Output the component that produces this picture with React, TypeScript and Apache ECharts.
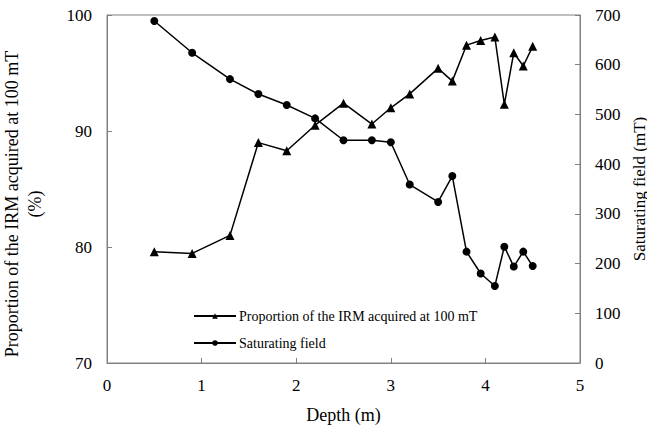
import React, { useEffect, useRef } from "react";
import * as echarts from "echarts";

const depth = [0.5, 0.9, 1.3, 1.6, 1.9, 2.2, 2.5, 2.8, 3.0, 3.2, 3.5, 3.65, 3.8, 3.95, 4.1, 4.2, 4.3, 4.4, 4.5];
const proportion = [79.6, 79.45, 81.0, 89.0, 88.3, 90.5, 92.4, 90.6, 92.0, 93.2, 95.4, 94.3, 97.4, 97.8, 98.1, 92.3, 96.75, 95.6, 97.3];
const saturating = [688, 624, 571, 541, 519, 492, 448, 448, 444, 359, 324, 376, 224, 180, 155, 234, 194, 224, 195];

const nameProp = "Proportion of the IRM acquired at 100 mT";
const nameSat = "Saturating field";

const FONT = "'Liberation Serif', 'Times New Roman', serif";

export default function App() {
  const ref = useRef<HTMLDivElement>(null);
  useEffect(() => {
    if (!ref.current) return;
    const chart = echarts.init(ref.current, undefined, { renderer: "svg" });
    const axisLine = { show: true, lineStyle: { color: "#808080", width: 1 } };
    const labelStyle = { fontFamily: FONT, fontSize: 17, color: "#000" };
    const tick = { show: true, inside: true, length: 5, lineStyle: { color: "#808080" } };
    chart.setOption({
      animation: false,
      backgroundColor: "#fff",
      textStyle: { fontFamily: FONT },
      grid: {
        left: 107,
        right: 67,
        top: 15,
        bottom: 66,
        show: true,
        borderColor: "#808080",
        borderWidth: 1,
        containLabel: false,
        outerBoundsMode: "none",
      },
      legend: {
        orient: "vertical",
        left: 188,
        top: 304,
        itemWidth: 42,
        itemHeight: 7,
        itemGap: 13,
        textStyle: { fontFamily: FONT, fontSize: 14, color: "#000", padding: [0, 0, 0, -2] },
        data: [nameProp, nameSat],
      },
      xAxis: {
        type: "value",
        min: 0,
        max: 5,
        interval: 1,
        name: "Depth (m)",
        nameLocation: "middle",
        nameGap: 43,
        nameTextStyle: { fontFamily: FONT, fontSize: 18, color: "#000" },
        axisLine,
        axisTick: tick,
        axisLabel: { ...labelStyle, margin: 14 },
        splitLine: { show: false },
      },
      yAxis: [
        {
          type: "value",
          min: 70,
          max: 100,
          interval: 10,
          position: "left",
          name: nameProp + "\n(%)",
          nameLocation: "middle",
          nameRotate: 90,
          nameGap: 61,
          nameTextStyle: { fontFamily: FONT, fontSize: 18, color: "#000", lineHeight: 23, align: "center", padding: [0, 30, 0, 0] },
          axisLine,
          axisTick: tick,
          axisLabel: { ...labelStyle, margin: 15 },
          splitLine: { show: false },
        },
        {
          type: "value",
          min: 0,
          max: 700,
          interval: 100,
          position: "right",
          name: "Saturating field (mT)",
          nameLocation: "middle",
          nameRotate: 90,
          nameGap: 43,
          nameTextStyle: { fontFamily: FONT, fontSize: 17, color: "#000", lineHeight: 17 },
          axisLine,
          axisTick: tick,
          axisLabel: { ...labelStyle, margin: 15 },
          splitLine: { show: false },
        },
      ],
      series: [
        {
          name: nameProp,
          type: "line",
          yAxisIndex: 0,
          data: depth.map((d, i) => [d, proportion[i]]),
          symbol: "triangle",
          symbolSize: 9,
          itemStyle: { color: "#000" },
          lineStyle: { color: "#000", width: 1.5 },
        },
        {
          name: nameSat,
          type: "line",
          yAxisIndex: 1,
          data: depth.map((d, i) => [d, saturating[i]]),
          symbol: "circle",
          symbolSize: 8,
          itemStyle: { color: "#000" },
          lineStyle: { color: "#000", width: 1.5 },
        },
      ],
    });
    return () => chart.dispose();
  }, []);
  return <div ref={ref} style={{ width: 647, height: 429, position: "absolute", left: 0, top: 0 }} />;
}
